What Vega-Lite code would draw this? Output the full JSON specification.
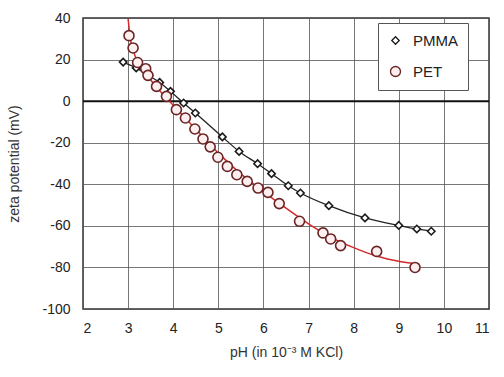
{
  "$schema": "https://vega.github.io/schema/vega-lite/v6.json",
  "autosize": "none",
  "padding": {"left": 83, "top": 18, "right": 15, "bottom": 68},
  "width": 406,
  "height": 291,
  "background": "white",
  "config": {
    "font": "Liberation Sans",
    "view": {"stroke": "#333", "strokeWidth": 1.5},
    "axis": {"labelFont": "Liberation Sans", "titleFont": "Liberation Sans", "labelColor": "#222", "titleColor": "#333", "titleFontWeight": "normal", "domain": false, "ticks": false, "gridColor": "#555", "gridOpacity": 0.8, "gridWidth": 1}
  },
  "datasets": {
    "pts": [
      {"series": "PMMA", "pH": 2.89, "zeta": 18.8},
      {"series": "PMMA", "pH": 3.18, "zeta": 16},
      {"series": "PMMA", "pH": 3.46, "zeta": 12.2},
      {"series": "PMMA", "pH": 3.70, "zeta": 9},
      {"series": "PMMA", "pH": 3.94, "zeta": 4.7},
      {"series": "PMMA", "pH": 4.23, "zeta": -0.9},
      {"series": "PMMA", "pH": 4.49, "zeta": -5.7},
      {"series": "PMMA", "pH": 5.09, "zeta": -17.2},
      {"series": "PMMA", "pH": 5.46, "zeta": -24.2},
      {"series": "PMMA", "pH": 5.87, "zeta": -30.1},
      {"series": "PMMA", "pH": 6.18, "zeta": -34.9},
      {"series": "PMMA", "pH": 6.55, "zeta": -40.7},
      {"series": "PMMA", "pH": 6.82, "zeta": -44.2},
      {"series": "PMMA", "pH": 7.45, "zeta": -50.3},
      {"series": "PMMA", "pH": 8.25, "zeta": -56.2},
      {"series": "PMMA", "pH": 9.0, "zeta": -59.8},
      {"series": "PMMA", "pH": 9.40, "zeta": -61.5},
      {"series": "PMMA", "pH": 9.72, "zeta": -62.6},
      {"series": "PET", "pH": 3.02, "zeta": 31.5},
      {"series": "PET", "pH": 3.11, "zeta": 25.6},
      {"series": "PET", "pH": 3.21, "zeta": 18.6},
      {"series": "PET", "pH": 3.39, "zeta": 15.6},
      {"series": "PET", "pH": 3.44, "zeta": 12.4},
      {"series": "PET", "pH": 3.63, "zeta": 7.1},
      {"series": "PET", "pH": 3.85, "zeta": 2.3},
      {"series": "PET", "pH": 4.07, "zeta": -4.1},
      {"series": "PET", "pH": 4.27, "zeta": -8.1},
      {"series": "PET", "pH": 4.48, "zeta": -13.4},
      {"series": "PET", "pH": 4.66, "zeta": -18.2},
      {"series": "PET", "pH": 4.82, "zeta": -22.0},
      {"series": "PET", "pH": 4.99, "zeta": -27.0},
      {"series": "PET", "pH": 5.20, "zeta": -31.4},
      {"series": "PET", "pH": 5.41, "zeta": -35.4},
      {"series": "PET", "pH": 5.64, "zeta": -38.6},
      {"series": "PET", "pH": 5.88, "zeta": -41.8},
      {"series": "PET", "pH": 6.10, "zeta": -43.9},
      {"series": "PET", "pH": 6.35, "zeta": -49.3},
      {"series": "PET", "pH": 6.80, "zeta": -57.8},
      {"series": "PET", "pH": 7.32, "zeta": -63.4},
      {"series": "PET", "pH": 7.49, "zeta": -66.3},
      {"series": "PET", "pH": 7.71, "zeta": -69.5},
      {"series": "PET", "pH": 8.51, "zeta": -72.3},
      {"series": "PET", "pH": 9.36, "zeta": -80}
    ],
    "fit": [
      {"pH": 3.0, "zeta": 39.5},
      {"pH": 3.05, "zeta": 30},
      {"pH": 3.15, "zeta": 22},
      {"pH": 3.35, "zeta": 14.5},
      {"pH": 3.6, "zeta": 7.5},
      {"pH": 4.0, "zeta": -2},
      {"pH": 4.5, "zeta": -13.5},
      {"pH": 5.0, "zeta": -25},
      {"pH": 5.5, "zeta": -35},
      {"pH": 6.0, "zeta": -43.5},
      {"pH": 6.5, "zeta": -51.5},
      {"pH": 7.0, "zeta": -59},
      {"pH": 7.5, "zeta": -65.5},
      {"pH": 8.0, "zeta": -70.5},
      {"pH": 8.5, "zeta": -74.5},
      {"pH": 9.0, "zeta": -77},
      {"pH": 9.3, "zeta": -78}
    ],
    "zero": [{"z": 0}]
  },
  "layer": [
    {
      "data": {"name": "zero"},
      "mark": {"type": "rule", "color": "#111", "strokeWidth": 2},
      "encoding": {"y": {"field": "z", "type": "quantitative", "scale": {"domain": [-100, 40]}}}
    },
    {
      "data": {"name": "fit"},
      "mark": {"type": "line", "color": "#d42a2a", "strokeWidth": 1.5, "interpolate": "monotone"},
      "encoding": {
        "x": {"field": "pH", "type": "quantitative"},
        "y": {"field": "zeta", "type": "quantitative"}
      }
    },
    {
      "data": {"name": "pts"},
      "transform": [{"filter": "datum.series == 'PMMA'"}],
      "mark": {"type": "line", "color": "#222", "strokeWidth": 1.3, "interpolate": "monotone"},
      "encoding": {
        "x": {"field": "pH", "type": "quantitative"},
        "y": {"field": "zeta", "type": "quantitative"}
      }
    },
    {
      "data": {"name": "pts"},
      "mark": {"type": "point", "filled": true, "strokeWidth": 1.6, "opacity": 1},
      "encoding": {
        "x": {
          "field": "pH", "type": "quantitative",
          "scale": {"domain": [2, 11], "nice": false},
          "axis": {"values": [2, 3, 4, 5, 6, 7, 8, 9, 10, 11], "labelFontSize": 14, "labelPadding": 12, "title": "pH (in 10⁻³ M KCl)", "titleFontSize": 14, "titlePadding": 10}
        },
        "y": {
          "field": "zeta", "type": "quantitative",
          "scale": {"domain": [-100, 40], "nice": false},
          "axis": {"values": [-100, -90, -80, -70, -60, -50, -40, -30, -20, -10, 0, 10, 20, 30, 40], "labelExpr": "datum.value % 20 == 0 ? '' + datum.value : ''", "labelFontSize": 14, "labelPadding": 13, "title": "zeta potential (mV)", "titleFontSize": 14, "titlePadding": 20}
        },
        "shape": {
          "field": "series", "type": "nominal",
          "scale": {"domain": ["PMMA", "PET"], "range": ["diamond", "circle"]},
          "legend": {"title": null, "orient": "none", "legendX": 295, "legendY": 5, "fillColor": "white", "strokeColor": "#555", "padding": 10, "rowPadding": 14, "labelFontSize": 15, "labelColor": "#222", "symbolStrokeWidth": 1.3, "labelOffset": 10, "labelLimit": 200}
        },
        "fill": {
          "field": "series", "type": "nominal",
          "scale": {"domain": ["PMMA", "PET"], "range": ["#ffffff", "#fdeef0"]}
        },
        "stroke": {
          "field": "series", "type": "nominal",
          "scale": {"domain": ["PMMA", "PET"], "range": ["#1a1a1a", "#6a2424"]}
        },
        "size": {
          "field": "series", "type": "nominal",
          "scale": {"domain": ["PMMA", "PET"], "range": [55, 100]}
        }
      }
    }
  ]
}
